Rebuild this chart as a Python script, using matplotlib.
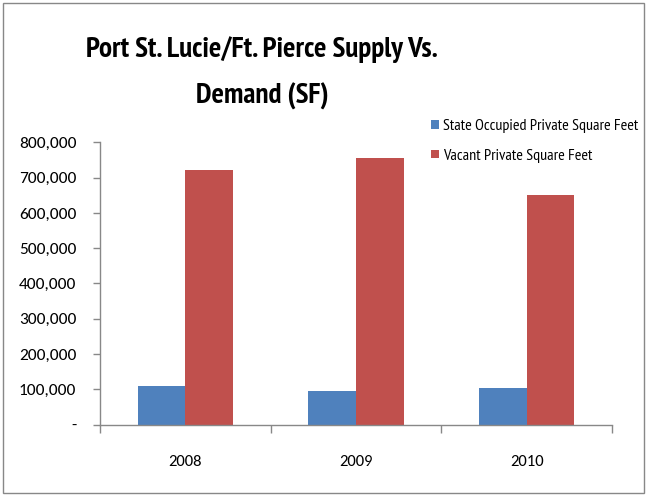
import matplotlib
matplotlib.use("Agg")
import matplotlib.pyplot as plt
import numpy as np
from matplotlib.patches import Rectangle
from matplotlib.ticker import FuncFormatter, FixedLocator

# Carlito has the same metrics as Calibri; PT Sans Narrow for the squeezed title/legend
plt.rcParams["font.family"] = ["Carlito", "DejaVu Sans"]
NARROW = ["PT Sans Narrow", "Carlito", "DejaVu Sans"]

years = ["2008", "2009", "2010"]
state_occupied = [108000, 94000, 104000]
vacant = [721000, 755000, 650000]
series_names = ["State Occupied Private Square Feet", "Vacant Private Square Feet"]

BLUE = "#4F81BD"
RED = "#C0504D"
AXIS_GRAY = "#888888"

fig = plt.figure(figsize=(6.47, 4.96), dpi=100)
ax = fig.add_axes([100 / 647, 1 - 424.5 / 496, 512 / 647, (424.5 - 142.5) / 496])

x = np.arange(len(years))
width = 0.28
ax.bar(x - width / 2, state_occupied, width, color=BLUE, label=series_names[0])
ax.bar(x + width / 2, vacant, width, color=RED, label=series_names[1])

ax.set_xlim(-0.5, len(years) - 0.5)
ax.set_ylim(0, 800000)
ax.set_yticks(np.arange(0, 800001, 100000))
ax.yaxis.set_major_formatter(FuncFormatter(lambda v, _: "-" if v == 0 else f"{v:,.0f}"))

# category labels centred, tick marks on the group boundaries
ax.set_xticks(x)
ax.set_xticklabels(years, fontsize=12)
ax.xaxis.set_minor_locator(FixedLocator(np.arange(-0.5, len(years), 1.0)))
ax.tick_params(axis="x", which="major", length=0, pad=22)
ax.tick_params(axis="x", which="minor", length=6, color=AXIS_GRAY, width=1)
ax.tick_params(axis="y", length=5, color=AXIS_GRAY, width=1, labelsize=12.5, pad=12)

for side in ("top", "right"):
    ax.spines[side].set_visible(False)
for side in ("left", "bottom"):
    ax.spines[side].set_color(AXIS_GRAY)
    ax.spines[side].set_linewidth(1)

fig.legend(
    loc="upper left",
    bbox_to_anchor=(425 / 647, 1 - 113 / 496),
    borderaxespad=0,
    frameon=False,
    prop={"family": NARROW, "size": 11.5},
    handlelength=0.45,
    handleheight=0.45,
    handletextpad=0.25,
    labelspacing=0.95,
)

title_kw = dict(ha="center", va="baseline", fontsize=21, fontweight="bold", family=NARROW)
fig.text(262 / 647, 1 - 57 / 496, "Port St. Lucie/Ft. Pierce Supply Vs.", **title_kw)
fig.text(262 / 647, 1 - 104 / 496, "Demand (SF)", **title_kw)

fig.patches.append(
    Rectangle((3 / 647, 3 / 496), 641 / 647, 490 / 496, transform=fig.transFigure,
              fill=False, edgecolor=AXIS_GRAY, linewidth=1)
)

fig.savefig("out.png", dpi=100)
